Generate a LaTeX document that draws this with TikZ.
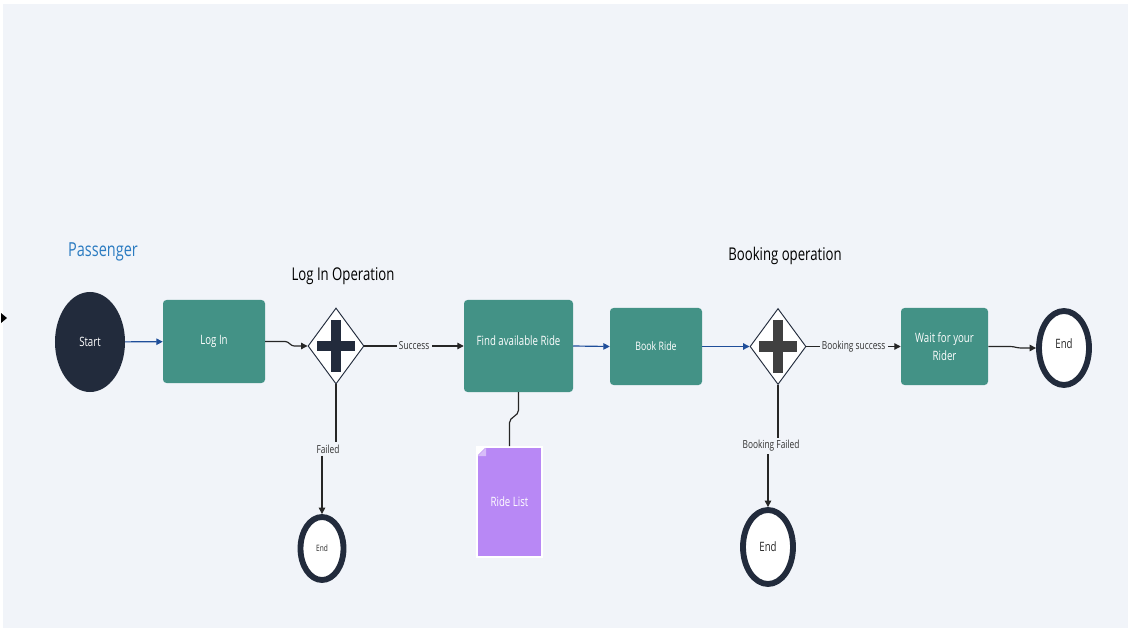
\documentclass[tikz,border=0pt]{standalone}
\usepackage{fontspec}
\setmainfont{Open Sans}[FakeStretch=0.75]
\usetikzlibrary{shapes.geometric,arrows.meta}

\definecolor{canvas}{HTML}{F1F4F9}
\definecolor{navy}{HTML}{222B3C}
\definecolor{taskgreen}{HTML}{439286}
\definecolor{flowblue}{HTML}{1F4E9A}
\definecolor{docpurple}{HTML}{B888F5}
\definecolor{titleblue}{HTML}{2B7BC1}

\begin{document}
\begin{tikzpicture}[x=0.03cm, y=-0.03cm,
    task/.style={rectangle, rounded corners=3pt, fill=taskgreen, text=white, align=center, inner sep=2pt, font=\fontsize{11}{15}\selectfont},
    gate/.style={diamond, draw=navy, fill=white, line width=0.8pt, minimum width=1.68cm, minimum height=2.28cm, inner sep=0pt,
        path picture={
            \fill[#1] ([xshift=-0.57cm,yshift=-0.16cm]path picture bounding box.center) rectangle ([xshift=0.57cm,yshift=0.16cm]path picture bounding box.center);
            \fill[#1] ([xshift=-0.15cm,yshift=-0.78cm]path picture bounding box.center) rectangle ([xshift=0.15cm,yshift=0.78cm]path picture bounding box.center);}},
    endev/.style={ellipse, draw=navy, fill=white, line width=5pt, inner sep=0pt, text=black!85},
    lbl/.style={fill=canvas, text=black!80, inner sep=2pt, font=\fontsize{9.5}{11}\selectfont},
    title/.style={font=\fontsize{15}{18}\selectfont},
    flow/.style={->, >={Triangle[length=5.5pt,width=5.5pt]}, line width=1pt, draw=black!85},
    msg/.style={flow, draw=flowblue}]

    \useasboundingbox (0,0) rectangle (1128,628);
    \fill[canvas] (3,4) rectangle (1128,628);
    \fill[black] (1,313) -- (7,318) -- (1,323) -- cycle;

    % titles
    \node[title, text=titleblue, font=\fontsize{16.5}{19}\selectfont] (pass) at (103,252) {Passenger};
    \node[title] (logop) at (343,276) {Log In Operation};
    \node[title] (bookop) at (785,256) {Booking operation};

    % main lane
    \node[ellipse, fill=navy, text=white, minimum width=2.1cm, minimum height=3cm, font=\fontsize{11}{13}\selectfont] (start) at (90,342) {Start};
    \node[task, minimum width=3.06cm, minimum height=2.49cm] (login) at (214,341.5) {Log In};
    \node[gate=navy] (gw1) at (336,346) {};
    \node[task, minimum width=3.27cm, minimum height=2.76cm, text depth=0.35cm] (find) at (518.5,346) {Find available Ride};
    \node[task, minimum width=2.76cm, minimum height=2.31cm, font=\fontsize{10}{12}\selectfont] (book) at (656,346.5) {Book Ride};
    \node[gate=black!75] (gw2) at (778,346.5) {};
    \node[task, minimum width=2.61cm, minimum height=2.31cm] (wait) at (944.5,346.5) {Wait for your\\Rider};
    \node[endev, minimum width=1.5cm, minimum height=2.22cm, text depth=0.25cm, font=\fontsize{11}{13}\selectfont] (endR) at (1064,348) {End};

    % end events below
    \node[endev, minimum width=1.29cm, minimum height=1.89cm, font=\fontsize{7.5}{9}\selectfont] (end1) at (322,548.5) {End};
    \node[endev, minimum width=1.5cm, minimum height=2.22cm, font=\fontsize{11}{13}\selectfont] (end2) at (768,547) {End};

    % data object
    \node[rectangle, fill=docpurple, draw=white, line width=1.5pt, text=white, minimum width=1.95cm, minimum height=3.3cm, font=\fontsize{11}{13}\selectfont] (rl) at (509.5,502) {Ride List};
    \fill[white] (rl.north west) -- ([xshift=0.32cm]rl.north west) -- ([yshift=-0.32cm]rl.north west) -- cycle;
    \fill[docpurple!55] ([xshift=0.3cm,yshift=-0.05cm]rl.north west) -- ([xshift=0.05cm,yshift=-0.3cm]rl.north west) -- ([xshift=0.3cm,yshift=-0.3cm]rl.north west) -- cycle;

    % edge labels
    \node[lbl] (fl) at (328,449) {Failed};
    \node[lbl] (bf) at (771,446) {Booking Failed};

    % flows
    \draw[msg] (start) -- (login);
    \draw[flow] (login.east) -- ++(20,0) to[out=0,in=180] ([xshift=-0.4cm]gw1.west) -- (gw1.west);
    \draw[flow] (gw1.east) -- node[lbl] {Success} (find.west);
    \draw[msg] (find.east) -- (book.west);
    \draw[msg] (book.east) -- (gw2.west);
    \draw[flow] (gw2.east) -- node[lbl] {Booking success} (wait.west);
    \draw[flow] (wait.east) -- ++(22,0) to[out=0,in=180] ([xshift=-0.45cm]endR.west) -- (endR.west);

    \draw[line width=1pt, black!85] (gw1.south) -- (gw1.south |- fl.north);
    \draw[flow] (end1.north |- fl.south) -- (end1.north);
    \draw[line width=1pt, black!85] (gw2.south) -- (gw2.south |- bf.north);
    \draw[flow] (end2.north |- bf.south) -- (end2.north);

    % association
    \draw[line width=1pt, black!85] (find.south) -- ++(0,18) to[out=-90,in=90] ([yshift=0.7cm]rl.north) -- (rl.north);
\end{tikzpicture}
\end{document}
